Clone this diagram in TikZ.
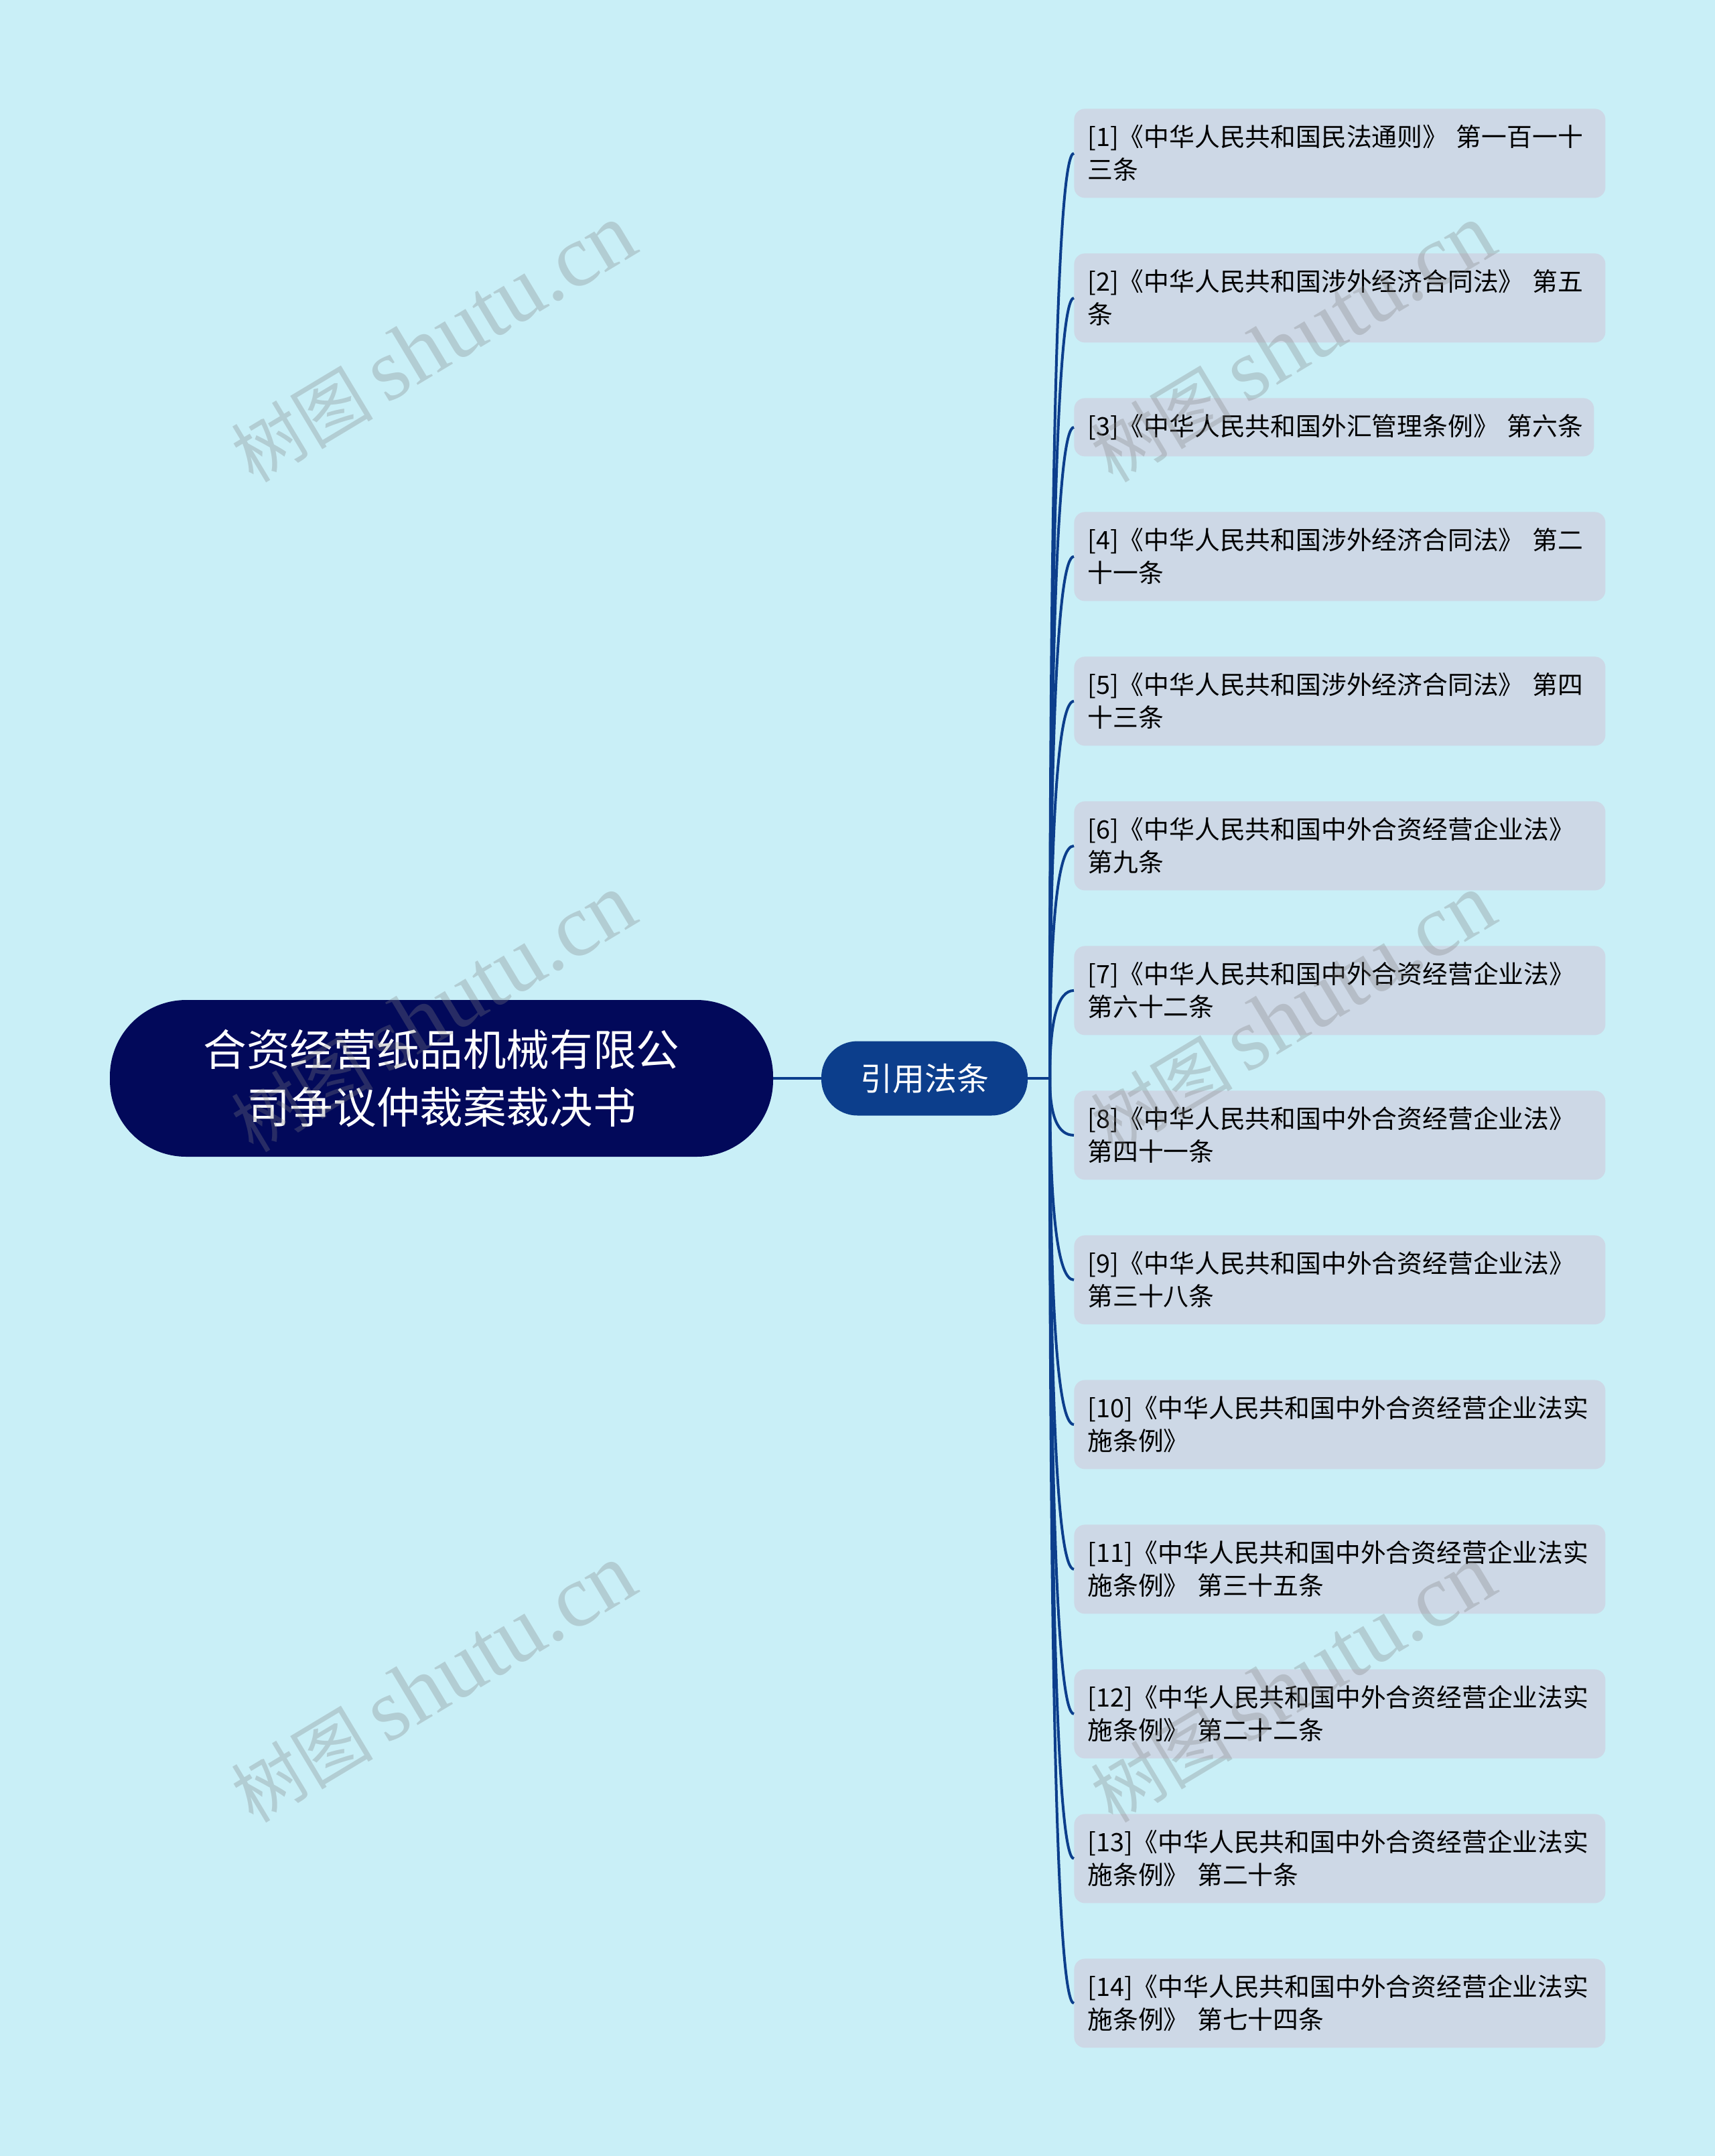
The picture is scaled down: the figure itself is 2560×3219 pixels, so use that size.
\documentclass[tikz,border=0pt]{standalone}
\usepackage{fontspec}
\setmainfont{Noto Sans CJK SC}
\newfontfamily\wmlatin{Liberation Serif}
\usetikzlibrary{calc}
\definecolor{bgc}{RGB}{201,239,247}
\definecolor{rootc}{RGB}{2,9,90}
\definecolor{midc}{RGB}{12,62,140}
\definecolor{leafc}{RGB}{205,216,230}
\definecolor{linec}{RGB}{12,62,140}
\newcommand{\wmtext}{{\fontsize{53pt}{53pt}\selectfont 树图}\hspace{10pt}{\wmlatin\fontsize{66pt}{66pt}\selectfont shutu.cn}}
\begin{document}
\begin{tikzpicture}[x=0.5pt,y=-0.5pt,
 rootbox/.style={fill=rootc, text=white, rounded corners=57pt, minimum width=495pt, minimum height=117pt, inner sep=0pt, align=center, font=\fontsize{32.3pt}{43pt}\selectfont},
 midbox/.style={fill=midc, text=white, rounded corners=27pt, minimum width=154pt, minimum height=55.5pt, inner sep=0pt, font=\fontsize{24pt}{30pt}\selectfont},
 leafbox/.style={fill=leafc, text=black, rounded corners=8pt, anchor=north west, text width=376.5pt, inner xsep=10pt, inner ysep=0pt, minimum height=66.5pt, align=left, font=\fontsize{18.9pt}{24.5pt}\selectfont},
 conn/.style={draw=linec, line width=2pt},
 wm/.style={text=gray, opacity=0.3, rotate=31, inner sep=0pt}
]
\useasboundingbox (0,0) rectangle (2560,3219);
\fill[bgc] (0,0) rectangle (2560,3219);

\node[rootbox] (root) at (659,1610) {合资经营纸品机械有限公\\司争议仲裁案裁决书};
\node[midbox] (mid) at (1380,1610) {引用法条};
\coordinate (j) at (1567,1610);

\node[leafbox] (l1) at (1603,162) {[1]《中华人民共和国民法通则》 第一百一十\\三条};
\node[leafbox] (l2) at (1603,378) {[2]《中华人民共和国涉外经济合同法》 第五\\条};
\node[leafbox, text width=368pt, minimum height=43.5pt] (l3) at (1603,594) {\mbox{[3]《中华人民共和国外汇管理条例》 第六条}};
\node[leafbox] (l4) at (1603,764) {[4]《中华人民共和国涉外经济合同法》 第二\\十一条};
\node[leafbox] (l5) at (1603,980) {[5]《中华人民共和国涉外经济合同法》 第四\\十三条};
\node[leafbox] (l6) at (1603,1196) {[6]《中华人民共和国中外合资经营企业法》\\第九条};
\node[leafbox] (l7) at (1603,1412) {[7]《中华人民共和国中外合资经营企业法》\\第六十二条};
\node[leafbox] (l8) at (1603,1628) {[8]《中华人民共和国中外合资经营企业法》\\第四十一条};
\node[leafbox] (l9) at (1603,1844) {[9]《中华人民共和国中外合资经营企业法》\\第三十八条};
\node[leafbox] (l10) at (1603,2060) {[10]《中华人民共和国中外合资经营企业法实\\施条例》};
\node[leafbox] (l11) at (1603,2276) {[11]《中华人民共和国中外合资经营企业法实\\施条例》 第三十五条};
\node[leafbox] (l12) at (1603,2492) {[12]《中华人民共和国中外合资经营企业法实\\施条例》 第二十二条};
\node[leafbox] (l13) at (1603,2708) {[13]《中华人民共和国中外合资经营企业法实\\施条例》 第二十条};
\node[leafbox] (l14) at (1603,2924) {[14]《中华人民共和国中外合资经营企业法实\\施条例》 第七十四条};

\draw[conn] (root.east) -- (mid.west);
\draw[conn] (mid.east) -- (j);
\foreach \i in {1,...,14} {
  \draw[conn] (j) .. controls ($(j)!0.667!(j|-l\i.west)$) and ($(l\i.west)!0.667!(j|-l\i.west)$) .. (l\i.west);
}

\node[wm] (w1) at (647,513) {\wmtext};
\node[wm] (w2) at (647,1513) {\wmtext};
\node[wm] (w3) at (647,2514) {\wmtext};
\node[wm] (w4) at (1930,513) {\wmtext};
\node[wm] (w5) at (1930,1513) {\wmtext};
\node[wm] (w6) at (1930,2514) {\wmtext};
\end{tikzpicture}
\end{document}
